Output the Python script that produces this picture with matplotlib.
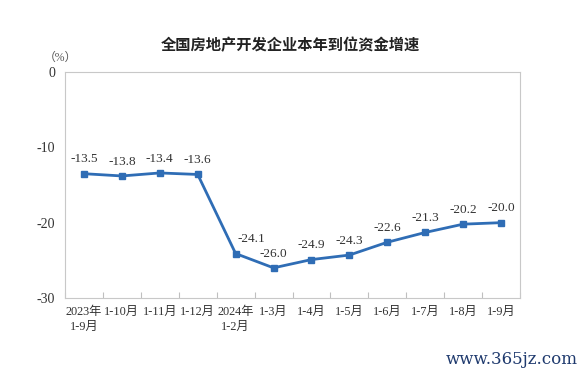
import matplotlib.pyplot as plt
import numpy as np

# Data: growth rate of funds in place (%)
months = ['2023年\n1-9月', '1-10月', '1-11月', '1-12月', '2024年\n1-2月', '1-3月',
          '1-4月', '1-5月', '1-6月', '1-7月', '1-8月', '1-9月']
growth = [-13.5, -13.8, -13.4, -13.6, -24.1, -26.0, -24.9, -24.3, -22.6, -21.3, -20.2, -20.0]
yticks = [0, -10, -20, -30]

serif = ['Liberation Serif', 'Noto Sans CJK SC']

fig = plt.figure(figsize=(5.87, 3.77), dpi=100)
ax = fig.add_axes([65 / 587, 1 - 298 / 377, 455 / 587, 226 / 377])

x = np.arange(len(months))
ax.plot(x, growth, color='#2F6DB5', linewidth=2, marker='s', markersize=4.5)

for xi, v in zip(x, growth):
    dx = 11 if xi == 4 else 0
    ax.annotate(f'{v:.1f}', (xi, v), xytext=(dx, 6), textcoords='offset points',
                ha='center', va='bottom', fontsize=9.5, family=serif, color='#333333')

ax.set_xlim(-0.5, len(months) - 0.5)
ax.set_ylim(-30, 0)
ax.set_yticks(yticks)
ax.set_yticklabels([str(t) for t in yticks], family=serif, fontsize=10, color='#333333')
ax.tick_params(axis='y', length=0, pad=7)

# ticks at category boundaries
ax.set_xticks(np.arange(len(months) + 1) - 0.5, minor=False)
ax.set_xticklabels([])
ax.set_xticks(x, minor=True)
ax.set_xticklabels(months, minor=True, family=serif, fontsize=8.8, color='#333333',
                   linespacing=1.3, va='top')
ax.tick_params(axis='x', which='major', direction='in', length=4, color='#BFBFBF')
ax.tick_params(axis='x', which='minor', length=0, pad=6)
for lbl in ax.get_xticklabels(minor=True):
    lbl.set_ha('center')

for s in ax.spines.values():
    s.set_color('#C8C8C8')
    s.set_linewidth(0.8)

fig.text(290 / 587, 1 - 45 / 377, '全国房地产开发企业本年到位资金增速', ha='center', va='center',
         fontsize=11, family=['Noto Sans CJK SC'], fontweight='bold', color='#222222')
fig.text(44 / 587, 1 - 58 / 377, '（%）', ha='left', va='center', fontsize=8.5,
         family=serif, color='#555555')
fig.text(578 / 587, 1 - 360 / 377, 'www.365jz.com', ha='right', va='center',
         fontsize=12, family=['DejaVu Serif'], color='#1F3A6E')

fig.savefig('out.png', dpi=100)
